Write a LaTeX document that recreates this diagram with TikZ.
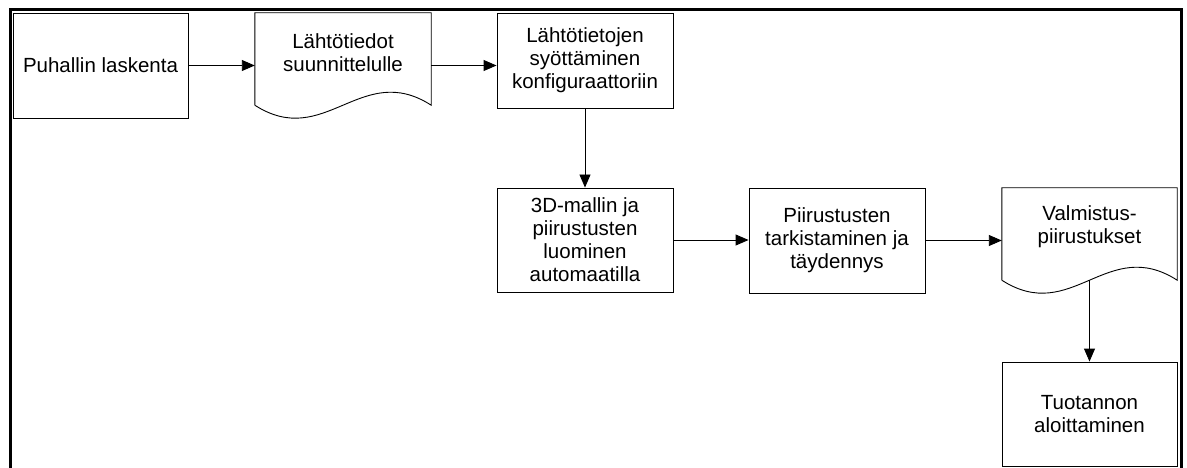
\documentclass[tikz,border=0pt]{standalone}
\usepackage{fontspec}
\setmainfont{Liberation Sans}
\usetikzlibrary{arrows.meta,calc}
\tikzset{
  box/.style={draw=black, line width=0.9pt, rectangle, inner sep=0pt, align=center,
    font=\fontsize{20.5}{23}\selectfont},
  docarea/.style={rectangle, inner sep=0pt},
  txt/.style={inner sep=0pt, align=center, font=\fontsize{20.5}{23}\selectfont},
  docline/.style={draw=black, line width=0.9pt},
  conn/.style={draw=black, line width=0.9pt, -{Triangle[length=13pt,width=11pt]}},
  frame/.style={draw=black, line width=3pt}
}
\begin{document}
\begin{tikzpicture}[x=1pt,y=-1pt]
\useasboundingbox (0,0) rectangle (1187,468);
\clip (0,0) rectangle (1187,468);
\fill[white] (0,0) rectangle (1187,468);
% outer frame
\draw[frame] (10,490) -- (10,10) -- (1181,10) -- (1181,490);

% nodes
\node[box, minimum width=175pt, minimum height=105pt] (b1) at (100.5,65.5) {Puhallin laskenta};

\node[docarea, minimum width=176pt, minimum height=92pt] (d1) at (343,59) {};
\draw[docline] (d1.south west) -- (d1.north west) -- (d1.north east) -- (d1.south east)
  .. controls ($(d1.south east)+(-70,-45)$) and ($(d1.south west)+(70,45)$) .. (d1.south west);
\node[txt] (d1t) at ($(d1.center)+(0,-6)$) {Lähtötiedot\\suunnittelulle};

\node[box, minimum width=176pt, minimum height=95pt] (b3) at (585,60.5) {Lähtötietojen\\syöttäminen\\konfiguraattoriin};

\node[box, minimum width=176pt, minimum height=104pt] (b4) at (585,240) {3D-mallin ja\\piirustusten\\luominen\\automaatilla};

\node[box, minimum width=176pt, minimum height=105pt] (b5) at (837,240.5) {Piirustusten\\tarkistaminen ja\\täydennys};

\node[docarea, minimum width=175pt, minimum height=92pt] (d2) at (1089.5,234) {};
\draw[docline] (d2.south west) -- (d2.north west) -- (d2.north east) -- (d2.south east)
  .. controls ($(d2.south east)+(-70,-45)$) and ($(d2.south west)+(70,45)$) .. (d2.south west);
\node[txt] (d2t) at ($(d2.center)+(0,-7)$) {Valmistus-\\piirustukset};

\node[box, minimum width=175pt, minimum height=104pt] (b7) at (1089.5,414) {Tuotannon\\aloittaminen};

% connectors
\draw[conn] (b1.east) -- (b1.east -| d1.west);
\draw[conn] (d1.east |- b1.east) -- (b1.east -| b3.west);
\draw[conn] (b3.south) -- (b4.north);
\draw[conn] (b4.east) -- (b4.east -| b5.west);
\draw[conn] (b5.east) -- (b5.east -| d2.west);
\draw[conn] (d2.south) -- (b7.north);
\end{tikzpicture}
\end{document}
